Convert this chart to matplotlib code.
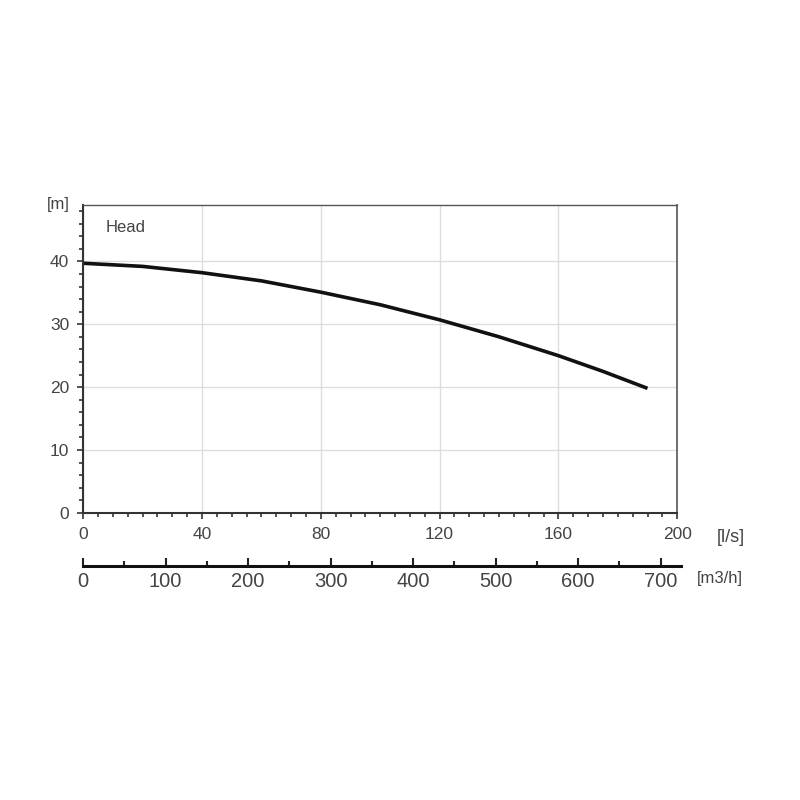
import matplotlib.pyplot as plt
from matplotlib.ticker import MultipleLocator

plt.rcParams['font.family'] = ['Liberation Sans', 'DejaVu Sans']

# Q-H curve
flow_ls = [0, 20, 40, 60, 80, 100, 120, 140, 160, 175, 190]
head_m = [39.7, 39.2, 38.2, 36.9, 35.1, 33.1, 30.7, 28.0, 25.0, 22.5, 19.8]

ls_ticks = [0, 40, 80, 120, 160, 200]
m3h_ticks = [0, 100, 200, 300, 400, 500, 600, 700]
head_ticks = [0, 10, 20, 30, 40]

txt = '#444444'

fig = plt.figure(figsize=(8, 8), dpi=100)
ax = fig.add_axes([0.104, 0.359, 0.7425, 0.385])

ax.plot(flow_ls, head_m, color='#111111', lw=2.6, solid_capstyle='butt',
        solid_joinstyle='round')

ax.set_xlim(0, 200)
ax.set_ylim(0, 49)
ax.set_xticks(ls_ticks)
ax.set_yticks(head_ticks)
ax.xaxis.set_minor_locator(MultipleLocator(5))
ax.yaxis.set_minor_locator(MultipleLocator(2))
ax.grid(True, which='major', color='#dddddd', lw=1)
ax.set_axisbelow(True)
ax.tick_params(which='both', direction='out', colors='#333333', labelcolor=txt,
               labelsize=12.5, width=1.2)
ax.tick_params(which='major', length=4, pad=6)
ax.tick_params(which='minor', length=3)
for s in ax.spines.values():
    s.set_color('#333333')
    s.set_linewidth(1.5)
ax.spines['top'].set_color('#555555')
ax.spines['top'].set_linewidth(1)
ax.spines['right'].set_color('#555555')
ax.spines['right'].set_linewidth(1.2)

ax.text(0.038, 0.925, 'Head', transform=ax.transAxes, fontsize=12, color=txt,
        va='center')
fig.text(58 / 800, 1 - 205 / 800, '[m]', fontsize=12, color=txt,
         ha='center', va='center')
fig.text(731 / 800, 1 - 537 / 800, '[l/s]', fontsize=13, color=txt,
         ha='center', va='center')

# second flow scale in m3/h
ax2 = fig.add_axes([0.104, 1 - 566 / 800, 0.7475, 0.001])
ax2.set_xlim(0, 725)
ax2.set_ylim(0, 1)
ax2.set_yticks([])
ax2.set_xticks(m3h_ticks)
ax2.xaxis.set_minor_locator(MultipleLocator(50))
for side in ['top', 'left', 'right']:
    ax2.spines[side].set_visible(False)
ax2.spines['bottom'].set_color('#111111')
ax2.spines['bottom'].set_linewidth(2.2)
ax2.patch.set_visible(False)
ax2.tick_params(which='both', direction='in', colors='#222222', labelcolor=txt,
                labelsize=14.5, width=1.5)
ax2.tick_params(which='major', length=6, pad=4)
ax2.tick_params(which='minor', length=3.5)
fig.text(720 / 800, 1 - 578 / 800, '[m3/h]', fontsize=12, color=txt,
         ha='center', va='center')

fig.savefig('out.png', dpi=100)
